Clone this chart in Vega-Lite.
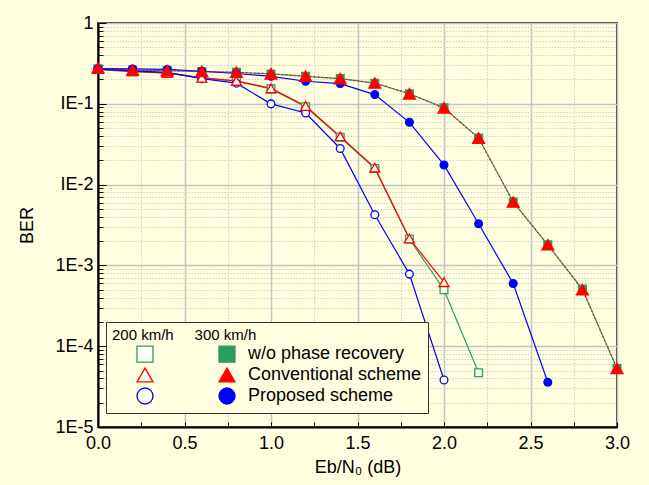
{
  "$schema": "https://vega.github.io/schema/vega-lite/v6.json",
  "autosize": {"type": "none"},
  "padding": {"left": 98, "top": 23, "right": 32, "bottom": 58},
  "width": 519,
  "height": 404,
  "background": "#FFFFE0",
  "config": {
    "font": "Liberation Sans",
    "view": {"stroke": "#3a3a3a", "strokeWidth": 2},
    "axis": {"labelFont": "Liberation Sans", "titleFont": "Liberation Sans", "labelColor": "black", "titleColor": "black", "labelFontSize": 18, "titleFontSize": 18, "titleFontWeight": "normal", "domainColor": "black", "domainWidth": 2, "tickColor": "black", "tickWidth": 1, "labelFlush": false}
  },
  "data": {"values": [
    {"k": "200 km/h|w/o phase recovery", "x": 0, "y": 0.265},
    {"k": "200 km/h|w/o phase recovery", "x": 0.2, "y": 0.25},
    {"k": "200 km/h|w/o phase recovery", "x": 0.4, "y": 0.24},
    {"k": "200 km/h|w/o phase recovery", "x": 0.6, "y": 0.209},
    {"k": "200 km/h|w/o phase recovery", "x": 0.8, "y": 0.19},
    {"k": "200 km/h|w/o phase recovery", "x": 1.0, "y": 0.153},
    {"k": "200 km/h|w/o phase recovery", "x": 1.2, "y": 0.092},
    {"k": "200 km/h|w/o phase recovery", "x": 1.4, "y": 0.0385},
    {"k": "200 km/h|w/o phase recovery", "x": 1.6, "y": 0.0158},
    {"k": "200 km/h|w/o phase recovery", "x": 1.8, "y": 0.00212},
    {"k": "200 km/h|w/o phase recovery", "x": 2.0, "y": 0.0005},
    {"k": "200 km/h|w/o phase recovery", "x": 2.2, "y": 0.000047},
    {"k": "200 km/h|Conventional scheme", "x": 0, "y": 0.27},
    {"k": "200 km/h|Conventional scheme", "x": 0.2, "y": 0.252},
    {"k": "200 km/h|Conventional scheme", "x": 0.4, "y": 0.241},
    {"k": "200 km/h|Conventional scheme", "x": 0.6, "y": 0.21},
    {"k": "200 km/h|Conventional scheme", "x": 0.8, "y": 0.192},
    {"k": "200 km/h|Conventional scheme", "x": 1.0, "y": 0.155},
    {"k": "200 km/h|Conventional scheme", "x": 1.2, "y": 0.094},
    {"k": "200 km/h|Conventional scheme", "x": 1.4, "y": 0.0395},
    {"k": "200 km/h|Conventional scheme", "x": 1.6, "y": 0.0162},
    {"k": "200 km/h|Conventional scheme", "x": 1.8, "y": 0.00215},
    {"k": "200 km/h|Conventional scheme", "x": 2.0, "y": 0.00062},
    {"k": "200 km/h|Proposed scheme", "x": 0, "y": 0.268},
    {"k": "200 km/h|Proposed scheme", "x": 0.2, "y": 0.256},
    {"k": "200 km/h|Proposed scheme", "x": 0.4, "y": 0.245},
    {"k": "200 km/h|Proposed scheme", "x": 0.6, "y": 0.205},
    {"k": "200 km/h|Proposed scheme", "x": 0.8, "y": 0.18},
    {"k": "200 km/h|Proposed scheme", "x": 1.0, "y": 0.0998},
    {"k": "200 km/h|Proposed scheme", "x": 1.2, "y": 0.077},
    {"k": "200 km/h|Proposed scheme", "x": 1.4, "y": 0.028},
    {"k": "200 km/h|Proposed scheme", "x": 1.6, "y": 0.00424},
    {"k": "200 km/h|Proposed scheme", "x": 1.8, "y": 0.00078},
    {"k": "200 km/h|Proposed scheme", "x": 2.0, "y": 0.0000382},
    {"k": "300 km/h|w/o phase recovery", "x": 0, "y": 0.272},
    {"k": "300 km/h|w/o phase recovery", "x": 0.2, "y": 0.262},
    {"k": "300 km/h|w/o phase recovery", "x": 0.4, "y": 0.258},
    {"k": "300 km/h|w/o phase recovery", "x": 0.6, "y": 0.25},
    {"k": "300 km/h|w/o phase recovery", "x": 0.8, "y": 0.245},
    {"k": "300 km/h|w/o phase recovery", "x": 1.0, "y": 0.234},
    {"k": "300 km/h|w/o phase recovery", "x": 1.2, "y": 0.219},
    {"k": "300 km/h|w/o phase recovery", "x": 1.4, "y": 0.205},
    {"k": "300 km/h|w/o phase recovery", "x": 1.6, "y": 0.18},
    {"k": "300 km/h|w/o phase recovery", "x": 1.8, "y": 0.133},
    {"k": "300 km/h|w/o phase recovery", "x": 2.0, "y": 0.089},
    {"k": "300 km/h|w/o phase recovery", "x": 2.2, "y": 0.0377},
    {"k": "300 km/h|w/o phase recovery", "x": 2.4, "y": 0.0061},
    {"k": "300 km/h|w/o phase recovery", "x": 2.6, "y": 0.0018},
    {"k": "300 km/h|w/o phase recovery", "x": 2.8, "y": 0.00051},
    {"k": "300 km/h|w/o phase recovery", "x": 3.0, "y": 0.000053},
    {"k": "300 km/h|Proposed scheme", "x": 0, "y": 0.272},
    {"k": "300 km/h|Proposed scheme", "x": 0.2, "y": 0.27},
    {"k": "300 km/h|Proposed scheme", "x": 0.4, "y": 0.266},
    {"k": "300 km/h|Proposed scheme", "x": 0.6, "y": 0.253},
    {"k": "300 km/h|Proposed scheme", "x": 0.8, "y": 0.237},
    {"k": "300 km/h|Proposed scheme", "x": 1.0, "y": 0.219},
    {"k": "300 km/h|Proposed scheme", "x": 1.2, "y": 0.19},
    {"k": "300 km/h|Proposed scheme", "x": 1.4, "y": 0.178},
    {"k": "300 km/h|Proposed scheme", "x": 1.6, "y": 0.13},
    {"k": "300 km/h|Proposed scheme", "x": 1.8, "y": 0.059},
    {"k": "300 km/h|Proposed scheme", "x": 2.0, "y": 0.0175},
    {"k": "300 km/h|Proposed scheme", "x": 2.2, "y": 0.00328},
    {"k": "300 km/h|Proposed scheme", "x": 2.4, "y": 0.000597},
    {"k": "300 km/h|Proposed scheme", "x": 2.6, "y": 0.0000358},
    {"k": "300 km/h|Conventional scheme", "x": 0, "y": 0.278},
    {"k": "300 km/h|Conventional scheme", "x": 0.2, "y": 0.262},
    {"k": "300 km/h|Conventional scheme", "x": 0.4, "y": 0.258},
    {"k": "300 km/h|Conventional scheme", "x": 0.6, "y": 0.252},
    {"k": "300 km/h|Conventional scheme", "x": 0.8, "y": 0.246},
    {"k": "300 km/h|Conventional scheme", "x": 1.0, "y": 0.235},
    {"k": "300 km/h|Conventional scheme", "x": 1.2, "y": 0.22},
    {"k": "300 km/h|Conventional scheme", "x": 1.4, "y": 0.205},
    {"k": "300 km/h|Conventional scheme", "x": 1.6, "y": 0.181},
    {"k": "300 km/h|Conventional scheme", "x": 1.8, "y": 0.133},
    {"k": "300 km/h|Conventional scheme", "x": 2.0, "y": 0.089},
    {"k": "300 km/h|Conventional scheme", "x": 2.2, "y": 0.0377},
    {"k": "300 km/h|Conventional scheme", "x": 2.4, "y": 0.0061},
    {"k": "300 km/h|Conventional scheme", "x": 2.6, "y": 0.0018},
    {"k": "300 km/h|Conventional scheme", "x": 2.8, "y": 0.0005},
    {"k": "300 km/h|Conventional scheme", "x": 3.0, "y": 0.000053}
  ]},
  "encoding": {
    "x": {"field": "x", "type": "quantitative",
      "scale": {"domain": [0, 3], "nice": false, "zero": false},
      "axis": {
        "title": "Eb/N₀ (dB)", "titlePadding": 6,
        "values": [0, 0.25, 0.5, 0.75, 1, 1.25, 1.5, 1.75, 2, 2.25, 2.5, 2.75, 3],
        "labelExpr": "datum.value*2 == round(datum.value*2) ? format(datum.value, '.1f') : ''",
        "tickSize": -5, "labelPadding": 12,
        "grid": true,
        "gridColor": {"condition": {"test": "datum.value*2 == round(datum.value*2)", "value": "#c4c4c4"}, "value": "#cfcfcf"},
        "gridDash": {"condition": {"test": "datum.value*2 == round(datum.value*2)", "value": [1, 0]}, "value": [1.5, 1.5]},
        "gridWidth": {"condition": {"test": "datum.value*2 == round(datum.value*2)", "value": 1.5}, "value": 1}
      }},
    "y": {"field": "y", "type": "quantitative",
      "scale": {"type": "log", "domain": [0.00001, 1], "nice": false},
      "axis": {
        "title": "BER", "titlePadding": 18,
        "values": [0.00001, 0.00002, 0.00003, 0.00004, 0.00005, 0.00006, 0.00007, 0.00008, 0.00009, 0.0001, 0.0002, 0.0003, 0.0004, 0.0005, 0.0006, 0.0007, 0.0008, 0.0009, 0.001, 0.002, 0.003, 0.004, 0.005, 0.006, 0.007, 0.008, 0.009, 0.01, 0.02, 0.03, 0.04, 0.05, 0.06, 0.07, 0.08, 0.09, 0.1, 0.2, 0.3, 0.4, 0.5, 0.6, 0.7, 0.8, 0.9, 1],
        "labelExpr": "datum.value == 1 ? '1' : datum.value == 0.1 ? 'IE-1' : datum.value == 0.01 ? 'IE-2' : datum.value == 0.001 ? '1E-3' : datum.value == 0.0001 ? '1E-4' : datum.value == 0.00001 ? '1E-5' : ''",
        "tickSize": {"condition": {"test": "datum.value == 1 || datum.value == 0.1 || datum.value == 0.01 || datum.value == 0.001 || datum.value == 0.0001 || datum.value == 0.00001", "value": -8}, "value": -5},
        "labelPadding": 13,
        "grid": true,
        "gridColor": {"condition": {"test": "datum.value == 1 || datum.value == 0.1 || datum.value == 0.01 || datum.value == 0.001 || datum.value == 0.0001 || datum.value == 0.00001", "value": "#c4c4c4"}, "value": "#cfcfcf"},
        "gridDash": {"condition": {"test": "datum.value == 1 || datum.value == 0.1 || datum.value == 0.01 || datum.value == 0.001 || datum.value == 0.0001 || datum.value == 0.00001", "value": [1, 0]}, "value": [1.5, 1.5]},
        "gridWidth": {"condition": {"test": "datum.value == 1 || datum.value == 0.1 || datum.value == 0.01 || datum.value == 0.001 || datum.value == 0.0001 || datum.value == 0.00001", "value": 1.5}, "value": 1}
      }}
  },
  "layer": [
    {
      "transform": [{"filter": "indexof(datum.k, 'w/o') >= 0"}],
      "mark": {"type": "line", "strokeWidth": 1.2, "clip": false, "color": "#2E9B5F"},
      "encoding": {"detail": {"field": "k", "type": "nominal"}}
    },
    {
      "transform": [{"filter": "datum.k == '200 km/h|Conventional scheme'"}],
      "mark": {"type": "line", "strokeWidth": 1.2, "clip": false, "color": "#FF0000"},
      "encoding": {}
    },
    {
      "transform": [{"filter": "indexof(datum.k, 'Proposed') >= 0"}],
      "mark": {"type": "line", "strokeWidth": 1.2, "clip": false, "color": "#0000FF"},
      "encoding": {"detail": {"field": "k", "type": "nominal"}}
    },
    {
      "transform": [{"filter": "datum.k == '300 km/h|Conventional scheme'"}],
      "mark": {"type": "line", "strokeWidth": 1.2, "clip": false, "color": "#FF0000", "strokeDash": [1.5, 2.5]},
      "encoding": {}
    },
    {
      "transform": [{"filter": "indexof(datum.k, 'Conventional') < 0"}],
      "mark": {"type": "point", "filled": true, "strokeWidth": 1.3, "opacity": 1, "clip": false, "size": 60},
      "encoding": {
        "fill": {"field": "k", "type": "nominal",
          "scale": {"domain": ["200 km/h|w/o phase recovery", "200 km/h|Conventional scheme", "200 km/h|Proposed scheme", "300 km/h|w/o phase recovery", "300 km/h|Conventional scheme", "300 km/h|Proposed scheme"],
            "range": ["#FFFFF4", "#FFFFF4", "#FFFFF4", "#2E9B5F", "#FF0000", "#0000FF"]},
          "legend": {
            "orient": "none", "legendX": 8, "legendY": 299, "columns": 2,
            "title": "200 km/h\u00a0\u00a0\u00a0\u00a0\u00a0300 km/h", "titleFontSize": 15, "titleFontWeight": "normal", "titleColor": "black", "titlePadding": 2,
            "labelFontSize": 18, "labelColor": "black", "labelLimit": 300,
            "labelExpr": "indexof(datum.value, '200') == 0 ? '' : split(datum.value, '|')[1]",
            "symbolOffset": 24, "labelOffset": 12, "columnPadding": 28, "rowPadding": 0, "padding": 6,
            "strokeColor": "#333333", "fillColor": "#FFFFE0",
            "symbolSize": 256, "symbolStrokeWidth": 1.3
          }},
        "stroke": {"field": "k", "type": "nominal",
          "scale": {"domain": ["200 km/h|w/o phase recovery", "200 km/h|Conventional scheme", "200 km/h|Proposed scheme", "300 km/h|w/o phase recovery", "300 km/h|Conventional scheme", "300 km/h|Proposed scheme"],
            "range": ["#2E9B5F", "#FF0000", "#0000FF", "#2E9B5F", "#FF0000", "#0000FF"]}},
        "shape": {"field": "k", "type": "nominal",
          "scale": {"domain": ["200 km/h|w/o phase recovery", "200 km/h|Conventional scheme", "200 km/h|Proposed scheme", "300 km/h|w/o phase recovery", "300 km/h|Conventional scheme", "300 km/h|Proposed scheme"],
            "range": ["square", "triangle-up", "circle", "square", "triangle-up", "circle"]}}
      }
    },
    {
      "transform": [{"filter": "datum.k == '200 km/h|Conventional scheme'"}],
      "mark": {"type": "point", "filled": true, "strokeWidth": 1.3, "opacity": 1, "clip": false, "size": 100},
      "encoding": {
        "fill": {"field": "k", "type": "nominal"},
        "stroke": {"field": "k", "type": "nominal"},
        "shape": {"field": "k", "type": "nominal"}
      }
    },
    {
      "transform": [{"filter": "datum.k == '300 km/h|Conventional scheme'"}],
      "mark": {"type": "point", "filled": true, "strokeWidth": 1.3, "opacity": 1, "clip": false, "size": 144},
      "encoding": {
        "fill": {"field": "k", "type": "nominal"},
        "stroke": {"field": "k", "type": "nominal"},
        "shape": {"field": "k", "type": "nominal"}
      }
    }
  ]
}
